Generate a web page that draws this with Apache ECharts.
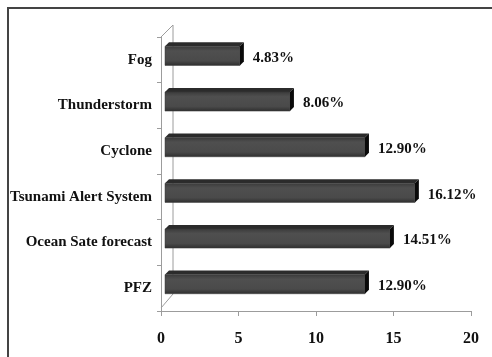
<!DOCTYPE html>
<html>
<head>
<meta charset="utf-8">
<script src="https://cdn.jsdelivr.net/npm/echarts@6/dist/echarts.min.js"></script>
<style>
  html, body { margin: 0; padding: 0; background: #fff; }
  #wrap { position: relative; width: 492px; height: 357px; overflow: hidden; }
  #frame { position: absolute; left: 7px; top: 7px; width: 500px; height: 400px;
           border-top: 2px solid #444; border-left: 2px solid #444; box-sizing: border-box; }
  #chart { position: absolute; left: 0; top: 0; width: 492px; height: 357px; }
</style>
</head>
<body>
<div id="wrap">
  <div id="frame"></div>
  <div id="chart"></div>
</div>
<script>
// Share of respondents per advisory type (top to bottom)
const categories = ['Fog', 'Thunderstorm', 'Cyclone', 'Tsunami Alert System', 'Ocean Sate forecast', 'PFZ'];
const shares = [4.83, 8.06, 12.90, 16.12, 14.51, 12.90];
const xTicks = [0, 5, 10, 15, 20];

const FONT = '"Liberation Serif", "Times New Roman", serif';
const AXIS_GREY = '#9c9c9c';
const DEPTH = 4;

const chart = echarts.init(document.getElementById('chart'), null, { renderer: 'canvas' });

// Back wall of the pseudo-3D plot (drawn relative to the grid rectangle)
function renderWall(params, api) {
  const cs = params.coordSys;
  const x = cs.x, top = cs.y, bottom = cs.y + cs.height;
  const off = 12;
  return {
    type: 'polyline',
    shape: { points: [[x, top], [x + off, top - off], [x + off, bottom - 17], [x, bottom - 3]] },
    style: { stroke: AXIS_GREY, lineWidth: 1, fill: null },
    silent: true
  };
}

// Extruded bar: front face, top face, right side face, value label
function renderBar(params, api) {
  const v = api.value(0);
  const c = api.value(1);
  const p0 = api.coord([0, c]);
  const p1 = api.coord([v, c]);
  const band = api.size([0, 1])[1];
  const h = band * 0.42;
  const cy = p0[1] - DEPTH;
  const xL = p0[0] + DEPTH, xR = p1[0] + DEPTH;
  const yT = cy - h / 2, yB = cy + h / 2;
  const d = DEPTH;
  return {
    type: 'group',
    children: [
      {
        type: 'polygon',
        shape: { points: [[xL, yT], [xR, yT], [xR + d, yT - d], [xL + d, yT - d]] },
        style: { fill: '#2b2b2b' }
      },
      {
        type: 'rect',
        shape: { x: xL, y: yT, width: xR - xL, height: h },
        style: {
          fill: new echarts.graphic.LinearGradient(0, 0, 0, 1, [
            { offset: 0, color: '#3a3a3a' },
            { offset: 0.25, color: '#4f4f4f' },
            { offset: 0.75, color: '#4a4a4a' },
            { offset: 1, color: '#2e2e2e' }
          ]),
          stroke: '#3a3a3a', lineWidth: 0.5
        }
      },
      {
        type: 'polygon',
        shape: { points: [[xR, yT], [xR + d, yT - d], [xR + d, yB - d], [xR, yB]] },
        style: { fill: '#0a0a0a' }
      },
      {
        type: 'text',
        x: xR + d + 9,
        y: cy + 2,
        style: {
          text: v.toFixed(2) + '%',
          font: 'bold 15px ' + FONT,
          fill: '#111',
          textAlign: 'left',
          textVerticalAlign: 'middle'
        }
      }
    ]
  };
}

chart.setOption({
  animation: false,
  backgroundColor: 'transparent',
  grid: { left: 161, right: 21, top: 37, bottom: 46 },
  xAxis: {
    type: 'value',
    min: xTicks[0],
    max: xTicks[xTicks.length - 1],
    interval: xTicks[1] - xTicks[0],
    axisLine: { show: true, lineStyle: { color: AXIS_GREY, width: 1 } },
    axisTick: { show: true, length: 5, lineStyle: { color: AXIS_GREY } },
    splitLine: { show: false },
    axisLabel: {
      margin: 20,
      fontFamily: FONT,
      fontWeight: 'bold',
      fontSize: 16,
      color: '#111'
    }
  },
  yAxis: {
    type: 'category',
    inverse: true,
    data: categories,
    axisLine: { show: true, lineStyle: { color: AXIS_GREY, width: 1 } },
    axisTick: { show: true, length: 4, lineStyle: { color: AXIS_GREY } },
    axisLabel: {
      margin: 9,
      fontFamily: FONT,
      fontWeight: 'bold',
      fontSize: 15,
      color: '#111',
      padding: [0, 0, 7, 0]
    }
  },
  series: [
    {
      type: 'custom',
      renderItem: renderWall,
      data: [[0, 0]],
      z: 1,
      silent: true
    },
    {
      type: 'custom',
      renderItem: renderBar,
      encode: { x: 0, y: 1 },
      data: shares.map((v, i) => [v, i]),
      z: 2
    }
  ]
});
</script>
</body>
</html>
